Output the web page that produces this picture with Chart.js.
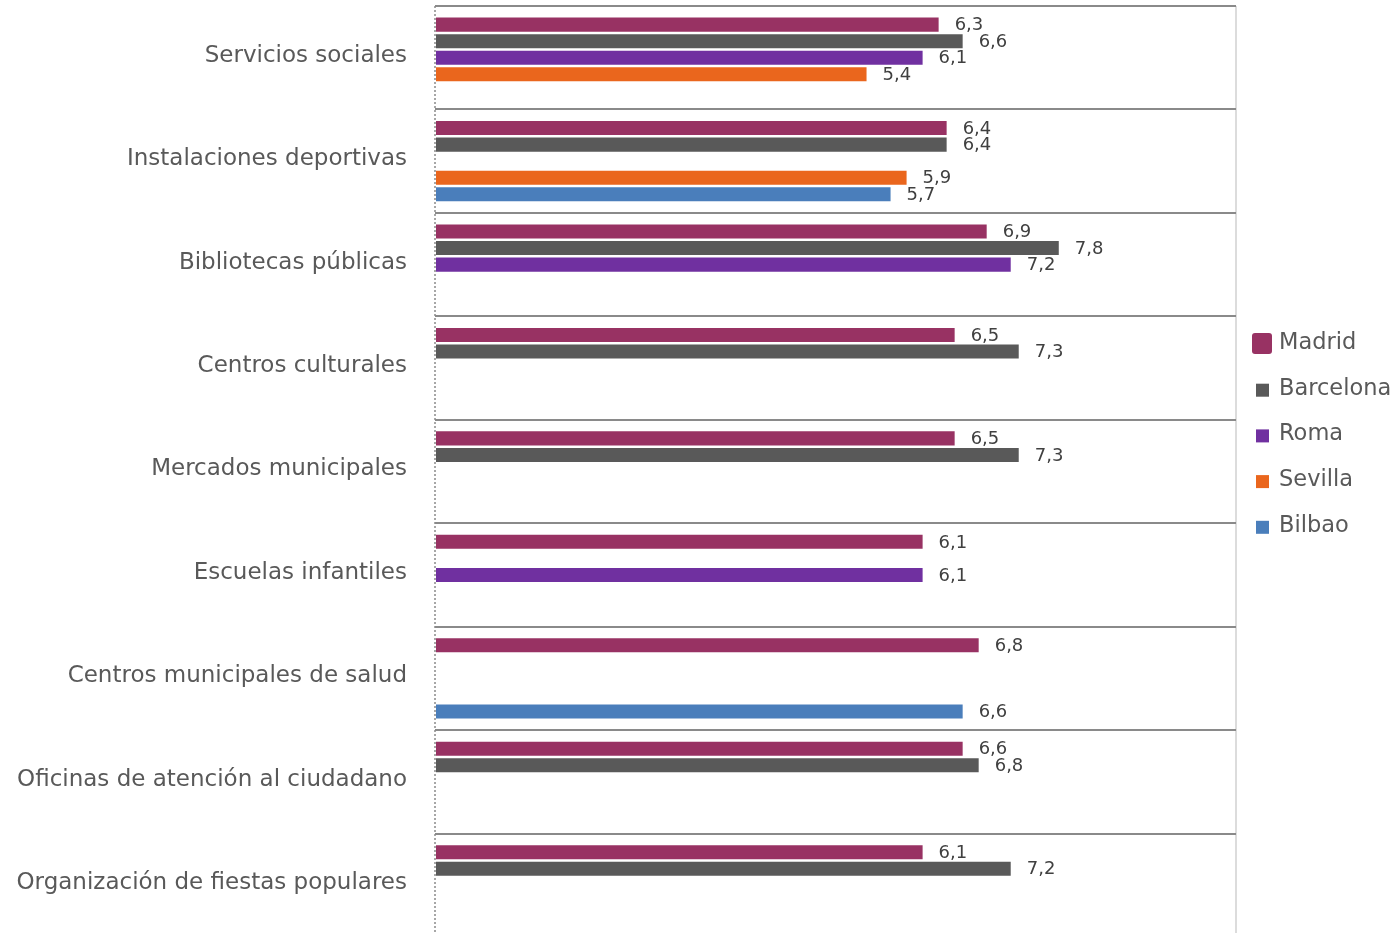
<!DOCTYPE html>
<html>
<head>
<meta charset="utf-8">
<script src="https://cdn.jsdelivr.net/npm/chart.js@4.4.1/dist/chart.umd.min.js"></script>
<style>
  html, body { margin: 0; padding: 0; background: #fff; overflow: hidden; }
  #wrap { width: 1400px; height: 940px; }
</style>
</head>
<body>
<div id="wrap"><canvas id="chart"></canvas></div>
<script>
var categories = [
  'Servicios sociales',
  'Instalaciones deportivas',
  'Bibliotecas públicas',
  'Centros culturales',
  'Mercados municipales',
  'Escuelas infantiles',
  'Centros municipales de salud',
  'Oficinas de atención al ciudadano',
  'Organización de fiestas populares'
];
var cities = ['Madrid', 'Barcelona', 'Roma', 'Sevilla', 'Bilbao'];
var madrid    = [6.3, 6.4, 6.9, 6.5, 6.5, 6.1, 6.8, 6.6, 6.1];
var barcelona = [6.6, 6.4, 7.8, 7.3, 7.3, null, null, 6.8, 7.2];
var roma      = [6.1, null, 7.2, null, null, 6.1, null, null, null];
var sevilla   = [5.4, 5.9, null, null, null, null, null, null, null];
var bilbao    = [null, 5.7, null, null, null, null, 6.6, null, null];
var cityColors = ['#983263', '#595959', '#7030a0', '#ea661d', '#4a7ebb'];

var series = [madrid, barcelona, roma, sevilla, bilbao];

// etiquetas de valor con coma decimal
var valueLabels = {
  id: 'valueLabels',
  afterDatasetsDraw: function (chart) {
    var ctx = chart.ctx;
    ctx.save();
    ctx.font = '18px "DejaVu Sans"';
    ctx.fillStyle = '#404040';
    ctx.textBaseline = 'middle';
    ctx.textAlign = 'left';
    chart.data.datasets.forEach(function (ds, i) {
      var meta = chart.getDatasetMeta(i);
      meta.data.forEach(function (bar, j) {
        var v = ds.data[j];
        if (v === null) return;
        ctx.fillText(v.toFixed(1).replace('.', ','), bar.x + 15, bar.y + 1);
      });
    });
    ctx.restore();
  }
};

// eje vertical punteado
var dottedAxis = {
  id: 'dottedAxis',
  afterDatasetsDraw: function (chart) {
    var ctx = chart.ctx, a = chart.chartArea;
    ctx.save();
    ctx.strokeStyle = '#8a8a8a';
    ctx.lineWidth = 1.5;
    ctx.setLineDash([2, 2]);
    ctx.beginPath();
    ctx.moveTo(a.left, a.top);
    ctx.lineTo(a.left, a.bottom);
    ctx.stroke();
    ctx.restore();
  }
};

// leyenda a la derecha
var sideLegend = {
  id: 'sideLegend',
  afterDraw: function (chart) {
    var ctx = chart.ctx;
    ctx.save();
    ctx.font = '22.5px "DejaVu Sans"';
    ctx.textBaseline = 'middle';
    ctx.textAlign = 'left';
    chart.data.datasets.forEach(function (ds, i) {
      var y = 343 + i * 45.7;
      ctx.fillStyle = ds.backgroundColor;
      if (i === 0) {
        ctx.beginPath();
        ctx.roundRect(1252, y - 10, 20, 21, 3);
        ctx.fill();
      } else {
        ctx.fillRect(1256, y - 5, 13, 13);
      }
      ctx.fillStyle = '#595959';
      ctx.fillText(ds.label, 1279, y);
    });
    ctx.restore();
  }
};

var datasets = cities.map(function (c, i) {
  return {
    label: c,
    data: series[i],
    backgroundColor: cityColors[i],
    borderColor: 'rgba(255,255,255,0.5)',
    borderWidth: 1,
    categoryPercentage: 0.8,
    barPercentage: 0.97
  };
});

new Chart(document.getElementById('chart'), {
  type: 'bar',
  data: { labels: categories, datasets: datasets },
  options: {
    indexAxis: 'y',
    responsive: true,
    maintainAspectRatio: false,
    animation: false,
    layout: { padding: { top: 6, right: 164, bottom: 3, left: 0 } },
    plugins: {
      legend: { display: false },
      tooltip: { enabled: false }
    },
    scales: {
      x: {
        min: 0,
        max: 10,
        ticks: { display: false, stepSize: 1 },
        grid: {
          drawTicks: false,
          lineWidth: 2,
          color: function (c) { return c.tick && c.tick.value === 10 ? '#dcdcdc' : 'rgba(0,0,0,0)'; }
        },
        border: { display: false }
      },
      y: {
        afterFit: function (s) {
          s.width = 435;
          s.paddingTop = 0;
          s.paddingBottom = 0;
        },
        ticks: {
          padding: 28,
          labelOffset: -2,
          color: '#595959',
          font: { family: '"DejaVu Sans"', size: 23 }
        },
        grid: { drawTicks: false, color: '#8a8a8a', lineWidth: 2, offset: true },
        border: { display: false }
      }
    }
  },
  plugins: [valueLabels, dottedAxis, sideLegend]
});
</script>
</body>
</html>
